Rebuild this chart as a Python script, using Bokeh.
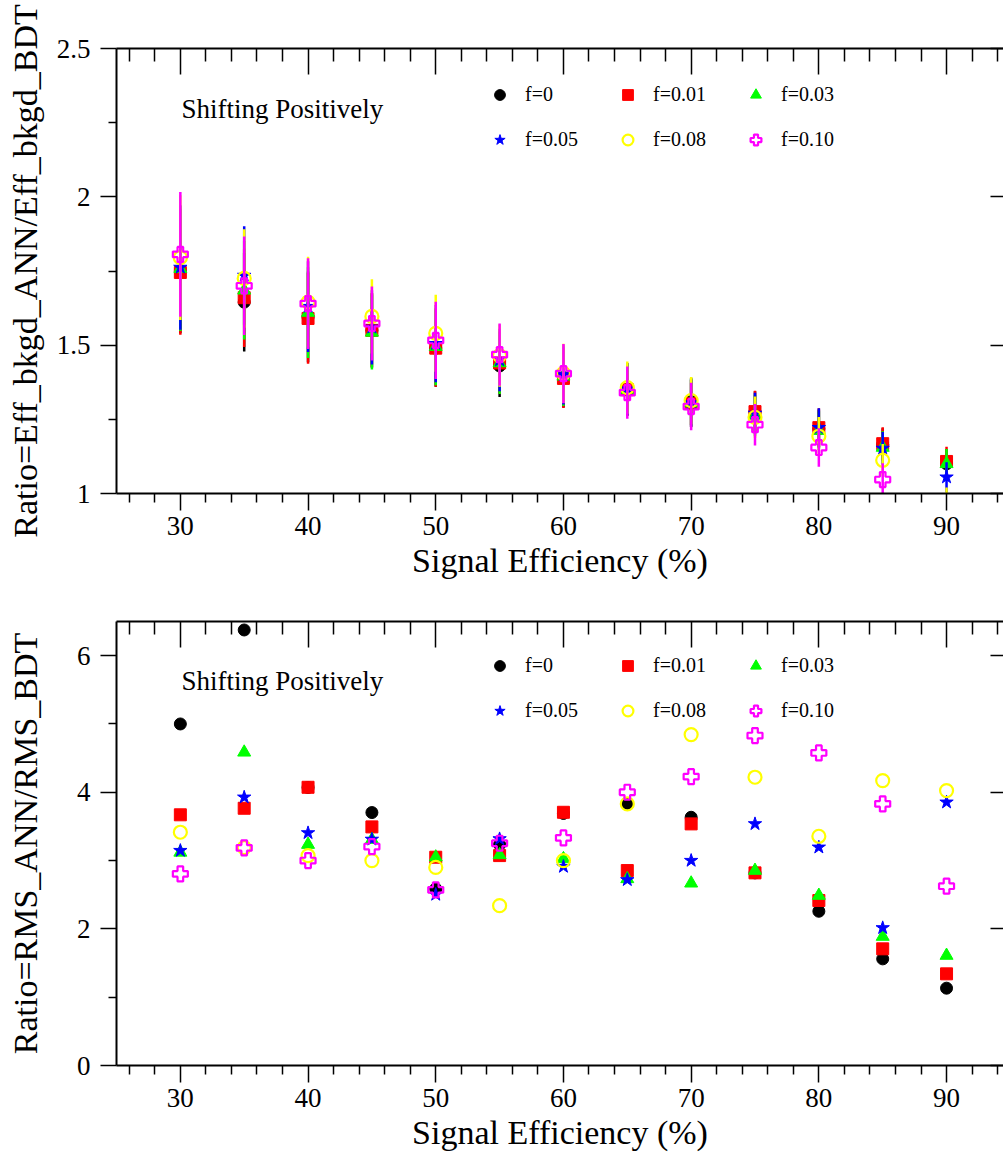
from bokeh.plotting import figure
from bokeh.models import (Range1d, LinearAxis, FixedTicker, Label, Legend, LegendItem)
from bokeh.layouts import column
from bokeh.embed import file_html
from bokeh.resources import INLINE

# ---------------- data ----------------
eff = [30, 35, 40, 45, 50, 55, 60, 65, 70, 75, 80, 85, 90]
series_labels = ["f=0", "f=0.01", "f=0.03", "f=0.05", "f=0.08", "f=0.10"]

# top panel: ratio of background efficiencies (ANN/BDT)
bkg_f000 = [1.750, 1.645, 1.595, 1.550, 1.490, 1.430, 1.390, 1.350, 1.310, 1.275, 1.218, 1.165, 1.100]
bkg_f001 = [1.745, 1.660, 1.590, 1.550, 1.490, 1.440, 1.388, 1.350, 1.303, 1.276, 1.222, 1.168, 1.108]
bkg_f003 = [1.758, 1.685, 1.610, 1.543, 1.495, 1.440, 1.395, 1.350, 1.305, 1.263, 1.212, 1.155, 1.100]
bkg_f005 = [1.762, 1.735, 1.630, 1.560, 1.505, 1.450, 1.400, 1.352, 1.305, 1.270, 1.222, 1.152, 1.055]
bkg_f008 = [1.795, 1.725, 1.645, 1.597, 1.540, 1.465, 1.405, 1.357, 1.313, 1.257, 1.193, 1.112, 0.970]
bkg_f010 = [1.806, 1.700, 1.640, 1.573, 1.516, 1.468, 1.404, 1.340, 1.293, 1.232, 1.155, 1.047, 0.930]
bkg_err = [0.210, 0.166, 0.153, 0.125, 0.130, 0.105, 0.100, 0.088, 0.080, 0.070, 0.065, 0.055, 0.050]

# bottom panel: ratio of RMS (ANN/BDT)
rms_f000 = [5.00, 6.376, 4.07, 3.703, 2.586, 3.234, 3.69, 3.83, 3.634, 2.82, 2.258, 1.561, 1.132]
rms_f001 = [3.67, 3.766, 4.073, 3.493, 3.049, 3.073, 3.707, 2.854, 3.537, 2.82, 2.415, 1.708, 1.342]
rms_f003 = [3.12, 4.585, 3.234, 3.307, 3.05, 3.083, 3.025, 2.732, 2.668, 2.854, 2.488, 1.888, 1.61]
rms_f005 = [3.146, 3.927, 3.405, 3.31, 2.503, 3.317, 2.912, 2.718, 3.00, 3.537, 3.195, 2.015, 3.854]
rms_f008 = [3.415, 3.19, 3.073, 3.00, 2.90, 2.34, 3.00, 3.83, 4.844, 4.22, 3.356, 4.171, 4.025]
rms_f010 = [2.805, 3.186, 3.00, 3.205, 2.571, 3.254, 3.332, 4.00, 4.229, 4.83, 4.576, 3.83, 2.625]

x_major = [30, 40, 50, 60, 70, 80, 90]
x_minor = [26, 28, 32, 34, 36, 38, 42, 44, 46, 48, 52, 54, 56, 58, 62, 64, 66, 68,
           72, 74, 76, 78, 82, 84, 86, 88, 92, 94]
x_labels = ["30", "40", "50", "60", "70", "80", "90"]
top_y_major = [1, 1.5, 2, 2.5]
top_y_minor = [1.25, 1.75, 2.25]
top_y_labels = ["1", "1.5", "2", "2.5"]
bot_y_major = [0, 2, 4, 6]
bot_y_minor = [1, 3, 5]
bot_y_labels = ["0", "2", "4", "6"]

x_title = "Signal Efficiency (%)"
top_y_title = "Ratio=Eff_bkgd_ANN/Eff_bkgd_BDT"
bot_y_title = "Ratio=RMS_ANN/RMS_BDT"
note_text = "Shifting Positively"

# ---------------- style ----------------
FONT = "Liberation Serif"
colors = ["#000000", "#ff0000", "#00ff00", "#0000ff", "#ffff00", "#ff00ff"]
markers = ["circle", "square", "triangle", "star", "circle", "plus"]
sizes = [12, 12, 13, 14, 13, 15]
filled = [True, True, True, True, False, False]


def style_axes(p, ymaj, ymin, ylabels, ytitle, ylab_standoff):
    xt = FixedTicker(ticks=x_major, minor_ticks=x_minor)
    yt = FixedTicker(ticks=ymaj, minor_ticks=ymin)
    xa = p.xaxis[0]
    ya = p.yaxis[0]
    xa.ticker = xt
    ya.ticker = yt
    xa.major_label_overrides = {v: s for v, s in zip(x_major, x_labels)}
    ya.major_label_overrides = {v: s for v, s in zip(ymaj, ylabels)}
    for a in (xa, ya):
        a.axis_line_width = 2
        a.axis_line_color = "black"
        a.major_tick_line_width = 1.5
        a.minor_tick_line_width = 1.5
        a.major_tick_in = 0
        a.minor_tick_in = 0
        a.major_label_text_font = FONT
        a.major_label_text_font_size = "27px"
        a.major_label_text_color = "black"
        a.axis_label_text_font = FONT
        a.axis_label_text_font_size = "34px"
        a.axis_label_text_font_style = "normal"
        a.axis_label_text_color = "black"
    xa.major_tick_out = 17
    xa.minor_tick_out = 9
    xa.major_label_standoff = 6
    xa.axis_label = x_title
    xa.axis_label_standoff = 4
    ya.major_tick_out = 16
    ya.minor_tick_out = 8
    ya.major_label_standoff = 10
    ya.axis_label = ytitle
    ya.axis_label_standoff = ylab_standoff

    top = LinearAxis(ticker=FixedTicker(ticks=x_major, minor_ticks=x_minor),
                     major_tick_in=26, major_tick_out=0, minor_tick_in=13, minor_tick_out=0,
                     major_label_overrides={v: "" for v in x_major}, major_label_standoff=0,
                     axis_line_width=2, major_tick_line_width=1.5, minor_tick_line_width=1.5)
    p.add_layout(top, "above")
    right = LinearAxis(ticker=FixedTicker(ticks=ymaj, minor_ticks=[]),
                       major_tick_in=13, major_tick_out=0, minor_tick_line_color=None,
                       major_label_overrides={v: "" for v in ymaj}, major_label_standoff=0,
                       axis_line_color=None, major_tick_line_width=1.5)
    p.add_layout(right, "right")


def make_panel(height, y0, y1, border_top, border_bottom, data, errs, ymaj, ymin, ylabels,
               ytitle, ylab_standoff, note_y, legend_loc):
    p = figure(width=1003, height=height, x_range=Range1d(25, 94.46), y_range=Range1d(y0, y1),
               output_backend="svg", toolbar_location=None,
               min_border_left=116, min_border_right=0, min_border_top=border_top,
               min_border_bottom=border_bottom)
    p.grid.visible = False
    p.outline_line_color = None
    p.background_fill_color = "white"
    p.border_fill_color = "white"
    style_axes(p, ymaj, ymin, ylabels, ytitle, ylab_standoff)

    items = []
    for vals, lab, col, mk, sz, fl in zip(data, series_labels, colors, markers, sizes, filled):
        if errs is not None:
            lo = [v - e for v, e in zip(vals, errs)]
            hi = [v + e for v, e in zip(vals, errs)]
            p.segment(x0=eff, y0=lo, x1=eff, y1=hi, line_color=col, line_width=2.5)
        if fl:
            r = p.scatter(x=eff, y=vals, marker=mk, size=sz, fill_color=col, line_color=col,
                          line_width=1)
        else:
            r = p.scatter(x=eff, y=vals, marker=mk, size=sz, fill_color=None, line_color=col,
                          line_width=2.2)
        items.append(LegendItem(label=lab, renderers=[r]))

    leg = Legend(items=items, ncols=3, orientation="horizontal", location=legend_loc,
                 glyph_width=27, glyph_height=27, label_width=71, label_height=20,
                 label_standoff=12, spacing=18, padding=0, margin=0,
                 border_line_color=None, background_fill_alpha=0,
                 label_text_font=FONT, label_text_font_size="20px", label_text_color="black")
    p.add_layout(leg)

    p.add_layout(Label(x=30.09, y=note_y, text=note_text, text_font=FONT, text_font_size="27px",
                       text_baseline="middle", text_color="black"))
    return p


top_data = [bkg_f000, bkg_f001, bkg_f003, bkg_f005, bkg_f008, bkg_f010]
bot_data = [rms_f000, rms_f001, rms_f003, rms_f005, rms_f008, rms_f010]

p1 = make_panel(581, 1, 2.5, 48, 88, top_data, bkg_err, top_y_major, top_y_minor, top_y_labels,
                top_y_title, 10, 2.297, (370, 340))
p2 = make_panel(572, 0, 6.5, 40, 88, bot_data, None, bot_y_major, bot_y_minor, bot_y_labels,
                bot_y_title, 30, 5.63, (370, 341))

layout = column(p1, p2, spacing=0)
open("out.html", "w").write(file_html(layout, INLINE))
